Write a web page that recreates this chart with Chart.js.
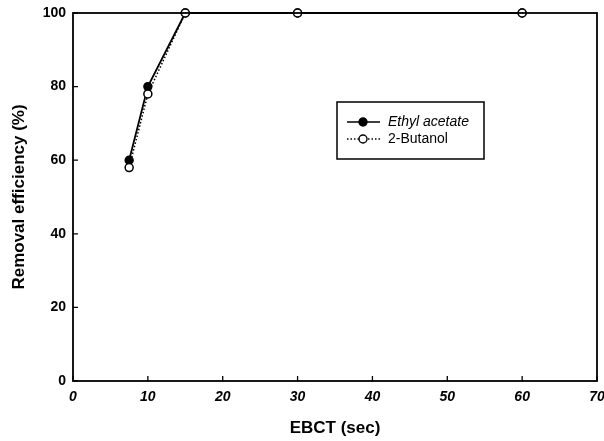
<!DOCTYPE html>
<html>
<head>
    <meta charset="utf-8">
    <title>Removal efficiency vs EBCT</title>
    <style>
        html, body { margin: 0; padding: 0; background: #fff; }
        #wrap { width: 604px; height: 441px; }
    </style>
</head>
<body>
    <div id="wrap"><canvas id="chart" width="604" height="441"></canvas></div>

    <script src="https://cdn.jsdelivr.net/npm/chart.js"></script>
    <script>
        // data
        var ebct = [7.5, 10, 15, 30, 60];
        var ethylAcetate = [60, 80, 100, 100, 100];
        var butanol = [58, 78, 100, 100, 100];
        var seriesNames = ['Ethyl acetate', '2-Butanol'];
        var xTicks = [0, 10, 20, 30, 40, 50, 60, 70];
        var yTicks = [0, 20, 40, 60, 80, 100];

        var FONT = '"Liberation Sans", Arial, sans-serif';

        function toPoints(xs, ys) {
            return xs.map(function (x, i) { return { x: x, y: ys[i] }; });
        }

        // frame + inward tick marks
        var framePlugin = {
            id: 'frame',
            afterDatasetsDraw: function (chart) {
                var c = chart.ctx, a = chart.chartArea;
                c.save();
                c.strokeStyle = '#000';
                c.lineWidth = 1.8;
                c.strokeRect(a.left, a.top, a.right - a.left, a.bottom - a.top);
                c.lineWidth = 1.3;
                c.beginPath();
                xTicks.forEach(function (v) {
                    var px = chart.scales.x.getPixelForValue(v);
                    c.moveTo(px, a.bottom);
                    c.lineTo(px, a.bottom - 5);
                });
                yTicks.forEach(function (v) {
                    var py = chart.scales.y.getPixelForValue(v);
                    c.moveTo(a.left, py);
                    c.lineTo(a.left + 5, py);
                });
                c.stroke();
                c.restore();
            }
        };

        // legend box drawn inside the plot
        var legendPlugin = {
            id: 'boxLegend',
            afterDraw: function (chart) {
                var c = chart.ctx;
                var bx = 337, by = 102, bw = 147, bh = 57;
                c.save();
                c.strokeStyle = '#000';
                c.lineWidth = 1.5;
                c.strokeRect(bx, by, bw, bh);
                // butanol row is index 1, ethyl row index 0
                chart.data.datasets.forEach(function (ds) {
                    var i = seriesNames.indexOf(ds.label);
                    var y = by + 20 + i * 17;
                    c.beginPath();
                    c.setLineDash(ds.borderDash || []);
                    c.lineWidth = 1.6;
                    c.moveTo(bx + 10, y);
                    c.lineTo(bx + 43, y);
                    c.stroke();
                    c.setLineDash([]);
                    c.beginPath();
                    c.arc(bx + 26, y, 4, 0, Math.PI * 2);
                    c.fillStyle = ds.pointBackgroundColor;
                    c.fill();
                    c.lineWidth = 1.4;
                    c.stroke();
                    c.fillStyle = '#000';
                    c.font = (i === 0 ? 'italic ' : '') + '14px ' + FONT;
                    c.textBaseline = 'middle';
                    c.fillText(ds.label, bx + 51, y + 0.5);
                });
                c.restore();
            }
        };

        new Chart(document.getElementById('chart'), {
            type: 'scatter',
            data: {
                datasets: [{
                    label: seriesNames[0],
                    data: toPoints(ebct, ethylAcetate),
                    order: 2,
                    showLine: true,
                    borderColor: '#000',
                    borderWidth: 1.8,
                    pointRadius: 4,
                    pointBackgroundColor: '#000',
                    pointBorderColor: '#000',
                    pointBorderWidth: 1.4
                }, {
                    label: seriesNames[1],
                    data: toPoints(ebct, butanol),
                    order: 1,
                    showLine: true,
                    borderColor: '#000',
                    borderWidth: 1.5,
                    borderDash: [1.5, 2],
                    pointRadius: 4,
                    pointBackgroundColor: '#fff',
                    pointBorderColor: '#000',
                    pointBorderWidth: 1.5
                }]
            },
            options: {
                responsive: false,
                animation: false,
                clip: false,
                layout: { padding: { top: 13, right: 7, left: 0, bottom: 0 } },
                plugins: {
                    legend: { display: false },
                    tooltip: { enabled: false }
                },
                scales: {
                    x: {
                        type: 'linear',
                        min: 0,
                        max: 70,
                        afterBuildTicks: function (s) { s.ticks = xTicks.map(function (v) { return { value: v }; }); },
                        afterFit: function (s) { s.height = 60; s.paddingLeft = 0; s.paddingRight = 0; },
                        grid: { drawOnChartArea: false, drawTicks: false },
                        border: { display: false },
                        ticks: {
                            padding: 8,
                            maxRotation: 0,
                            color: '#000',
                            font: { family: FONT, size: 14, style: 'italic', weight: 'bold' }
                        },
                        title: {
                            display: true,
                            text: 'EBCT (sec)',
                            color: '#000',
                            padding: { top: 8, bottom: 2 },
                            font: { family: FONT, size: 17, weight: 'bold' }
                        }
                    },
                    y: {
                        min: 0,
                        max: 100,
                        afterBuildTicks: function (s) { s.ticks = yTicks.map(function (v) { return { value: v }; }); },
                        afterFit: function (s) { s.width = 73; s.paddingTop = 0; s.paddingBottom = 0; },
                        grid: { drawOnChartArea: false, drawTicks: false },
                        border: { display: false },
                        ticks: {
                            padding: 7,
                            color: '#000',
                            font: { family: FONT, size: 14, weight: 'bold' }
                        },
                        title: {
                            display: true,
                            text: 'Removal efficiency (%)',
                            color: '#000',
                            padding: { top: 9, bottom: 4 },
                            font: { family: FONT, size: 17, weight: 'bold' }
                        }
                    }
                }
            },
            plugins: [framePlugin, legendPlugin]
        });
    </script>
</body>
</html>
